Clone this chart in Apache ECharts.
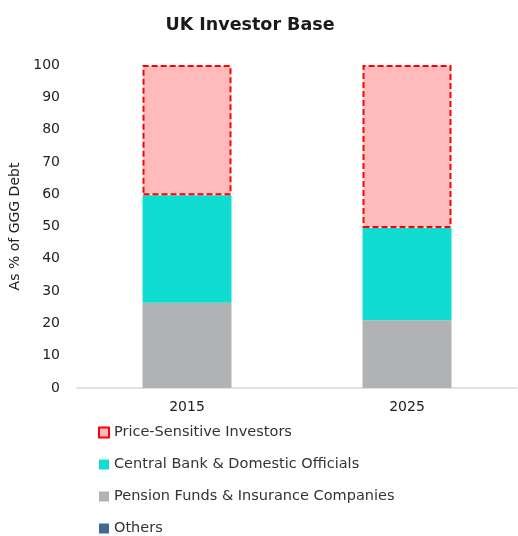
<!DOCTYPE html>
<html>
<head>
<meta charset="utf-8">
<script src="https://cdn.jsdelivr.net/npm/echarts@6/dist/echarts.min.js"></script>
<style>html,body{margin:0;padding:0;background:#fff;}#c{width:518px;height:536px;}</style>
</head>
<body>
<div id="c"></div>
<script>
var categories = ['2015', '2025'];
var pensionFunds = [26.4, 21.0];
var centralBank = [33.3, 28.5];
var priceSensitive = [40.3, 50.5];
var others = [0, 0];
var yTicks = [0, 10, 20, 30, 40, 50, 60, 70, 80, 90, 100];

var font = '"DejaVu Sans", Verdana, sans-serif';
var chart = echarts.init(document.getElementById('c'));
chart.setOption({
  animation: false,
  title: {
    text: 'UK Investor Base', left: 245, top: 11, textAlign: 'center',
    textStyle: { fontFamily: font, fontSize: 17.5, fontWeight: 'bold', color: '#1a1a1a' }
  },
  grid: { left: 77, right: 1, top: 65, bottom: 148, containLabel: false },
  legend: {
    orient: 'vertical', left: 93, top: 419, height: 140, icon: 'rect',
    itemWidth: 10, itemHeight: 10, itemGap: 15, itemTextGap: 4,
    textStyle: { fontFamily: font, fontSize: 14.5, color: '#333', lineHeight: 17 },
    data: ['Price-Sensitive Investors', 'Central Bank & Domestic Officials', 'Pension Funds & Insurance Companies', 'Others']
  },
  xAxis: {
    type: 'category', data: categories,
    axisLine: { lineStyle: { color: '#d9d9d9', width: 1.5 } },
    axisTick: { show: false },
    axisLabel: { fontFamily: font, fontSize: 14, color: '#222', margin: 12 }
  },
  yAxis: {
    type: 'value', min: 0, max: 100, interval: 10,
    name: 'As % of GGG Debt', nameLocation: 'middle', nameGap: 47, nameRotate: 90,
    nameTextStyle: { fontFamily: font, fontSize: 14, color: '#222' },
    splitLine: { show: false },
    axisLine: { show: false }, axisTick: { show: false },
    axisLabel: { fontFamily: font, fontSize: 14, color: '#222', margin: 17,
      formatter: function (v) { return yTicks.indexOf(v) >= 0 ? String(v) : ''; } }
  },
  series: [
    { name: 'Pension Funds & Insurance Companies', type: 'bar', stack: 's', barWidth: 89, data: pensionFunds,
      itemStyle: { color: '#b1b2b4' } },
    { name: 'Central Bank & Domestic Officials', type: 'bar', stack: 's', data: centralBank,
      itemStyle: { color: '#10ddd2' } },
    { name: 'Price-Sensitive Investors', type: 'bar', stack: 's', data: priceSensitive,
      itemStyle: { color: '#ffbbbb', borderColor: '#ff0000', borderWidth: 2, borderType: [6, 3] } },
    { name: 'Others', type: 'bar', stack: 's', data: others,
      itemStyle: { color: '#3e6a91' } }
  ]
});
</script>
</body>
</html>
